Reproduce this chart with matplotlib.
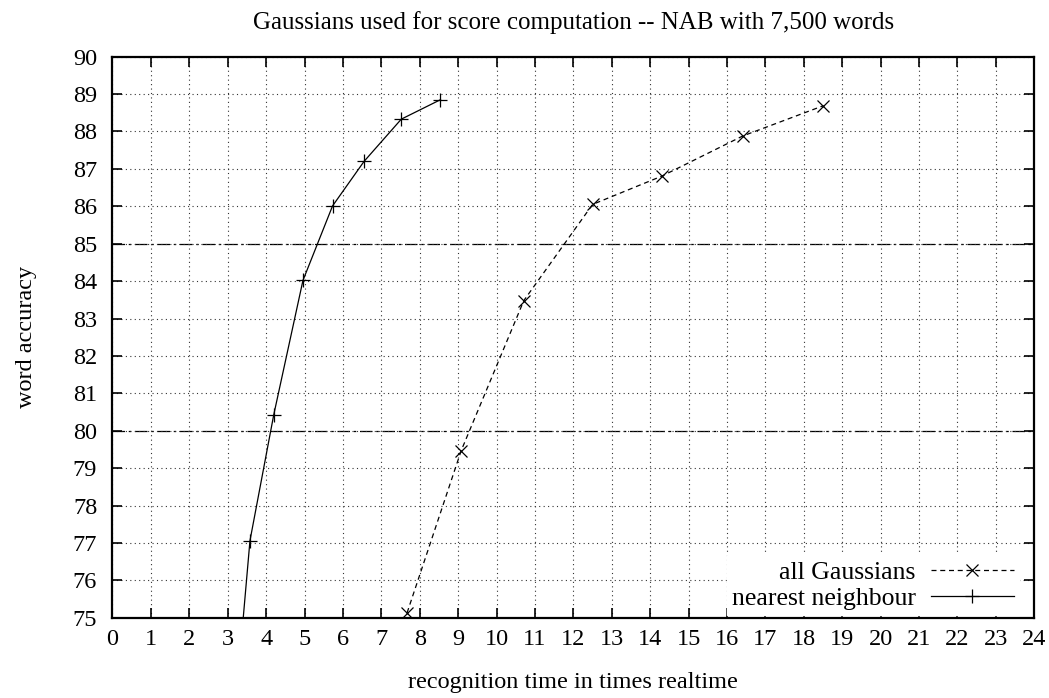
import matplotlib
matplotlib.use('Agg')
import matplotlib.pyplot as plt
import numpy as np

plt.rcParams['font.family'] = ['Liberation Serif', 'DejaVu Serif']

# nearest neighbour (+), solid
nn_time = [3.32, 3.58, 4.20, 4.96, 5.73, 6.55, 7.52, 8.54]
nn_acc = [74.0, 77.06, 80.43, 84.02, 86.01, 87.20, 88.33, 88.85]

# all Gaussians (x), dashed
all_time = [7.67, 9.08, 10.71, 12.50, 14.31, 16.41, 18.51]
all_acc = [75.13, 79.47, 83.48, 86.05, 86.81, 87.88, 88.69]

ref_levels = [80, 85]

fig = plt.figure(figsize=(10.49, 6.98), dpi=100)
ax = fig.add_axes([0.1072, 0.115, 0.8788, 0.8038])

ax.set_xlim(0, 24)
ax.set_ylim(75, 90)
ax.set_xticks(np.arange(0, 25, 1))
ax.set_yticks(np.arange(75, 91, 1))

ax.grid(True, color='#333333', linestyle=(0, (1, 3)), linewidth=0.8)
for lv in ref_levels:
    ax.axhline(lv, color='black', linewidth=0.9, linestyle=(0, (10, 3, 2, 3)), zorder=1.5)

ax.plot(all_time, all_acc, color='black', linestyle=(0, (4, 3)), linewidth=0.9,
        marker='x', markersize=9, markeredgewidth=0.9, label='all Gaussians')
ax.plot(nn_time, nn_acc, color='black', linestyle='-', linewidth=0.9,
        marker='+', markersize=10, markeredgewidth=0.9, label='nearest neighbour')

ax.tick_params(direction='in', length=7, width=1.2, top=True, right=True,
               labelsize=17.5)
ax.tick_params(axis='y', pad=11)
ax.tick_params(axis='x', pad=8)
for s in ax.spines.values():
    s.set_linewidth(1.6)

ax.set_title('Gaussians used for score computation -- NAB with 7,500 words',
             fontsize=18, pad=20)
ax.set_xlabel('recognition time in times realtime', fontsize=17.5, labelpad=16)
ax.set_ylabel('word accuracy', fontsize=17.5, labelpad=26)

leg = ax.legend(loc='lower right', bbox_to_anchor=(0.983, 0.004), fontsize=18.5,
                markerfirst=False, frameon=True, fancybox=False,
                handlelength=3.2, handletextpad=0.6, labelspacing=0.15,
                borderpad=0.2, borderaxespad=0)
leg.get_frame().set_edgecolor('white')
leg.get_frame().set_facecolor('white')
leg.get_frame().set_alpha(1)

fig.savefig('out.png', dpi=100)
